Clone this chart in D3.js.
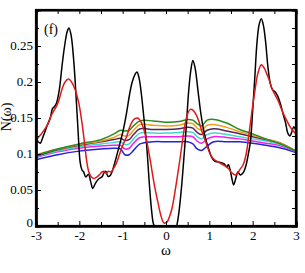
<!DOCTYPE html>
<html><head><meta charset="utf-8">
<script src="https://cdn.jsdelivr.net/npm/d3@7"></script>
<style>
body{margin:0;background:#fff;}
text{font-family:"Liberation Serif","DejaVu Serif",serif;}
</style></head><body>
<svg id="c" width="305" height="273"></svg>
<script>
const xTicks=[-3,-2,-1,0,1,2,3];
const xMinor=[-2.5,-1.5,-0.5,0.5,1.5,2.5];
const yTicks=[0,0.05,0.1,0.15,0.2,0.25];
const yTickLabels=["0","0.05","0.1","0.15","0.2","0.25"];
const yMinor=[0.025,0.075,0.125,0.175,0.225,0.275];

const blackW=[-3,-2.95,-2.9,-2.85,-2.8,-2.74,-2.67,-2.62,-2.57,-2.52,-2.46,-2.4,-2.34,-2.28,-2.24,-2.19,-2.13,-2.08,-2.03,-1.98,-1.94,-1.9,-1.85,-1.79,-1.74,-1.69,-1.64,-1.6,-1.54,-1.48,-1.43,-1.39,-1.34,-1.29,-1.22,-1.15,-1.07,-0.98,-0.91,-0.84,-0.78,-0.72,-0.67,-0.62,-0.57,-0.51,-0.45,-0.38,-0.33,-0.29,-0.26,0,0.24,0.26,0.3,0.36,0.42,0.47,0.52,0.57,0.62,0.67,0.74,0.8,0.86,0.92,0.98,1.05,1.12,1.2,1.28,1.35,1.4,1.44,1.48,1.52,1.56,1.61,1.66,1.71,1.75,1.8,1.85,1.9,1.95,2,2.05,2.1,2.15,2.2,2.25,2.3,2.35,2.4,2.45,2.52,2.58,2.64,2.7,2.76,2.81,2.86,2.9,2.95,3];
const blackN=[0.121,0.117,0.115,0.122,0.13,0.14,0.15,0.163,0.166,0.172,0.19,0.222,0.25,0.27,0.275,0.265,0.23,0.185,0.133,0.088,0.078,0.075,0.068,0.072,0.062,0.052,0.058,0.062,0.066,0.068,0.074,0.076,0.069,0.07,0.08,0.095,0.113,0.135,0.157,0.183,0.2,0.21,0.214,0.205,0.184,0.15,0.115,0.055,0.02,0.003,0,0,0,0.004,0.02,0.055,0.1,0.14,0.185,0.215,0.23,0.22,0.187,0.158,0.136,0.12,0.108,0.096,0.09,0.089,0.088,0.086,0.082,0.085,0.078,0.066,0.057,0.066,0.075,0.071,0.072,0.076,0.085,0.1,0.118,0.16,0.207,0.255,0.28,0.288,0.278,0.255,0.222,0.2,0.19,0.186,0.18,0.17,0.156,0.143,0.129,0.125,0.13,0.138,0.132];

const redW=[-3,-2.92,-2.85,-2.74,-2.66,-2.59,-2.53,-2.47,-2.4,-2.33,-2.25,-2.18,-2.1,-2.01,-1.96,-1.92,-1.87,-1.83,-1.78,-1.72,-1.66,-1.6,-1.54,-1.48,-1.43,-1.38,-1.33,-1.27,-1.21,-1.14,-1.07,-0.99,-0.91,-0.84,-0.78,-0.72,-0.65,-0.59,-0.53,-0.47,-0.42,-0.36,-0.3,-0.24,-0.18,-0.12,-0.06,-0.02,0.03,0.08,0.14,0.2,0.26,0.32,0.38,0.43,0.5,0.56,0.62,0.7,0.76,0.82,0.88,0.94,1.01,1.07,1.12,1.2,1.28,1.35,1.4,1.45,1.5,1.56,1.6,1.65,1.7,1.78,1.85,1.92,1.98,2.05,2.12,2.2,2.27,2.32,2.38,2.43,2.5,2.58,2.66,2.74,2.8,2.86,2.92,3];
const redN=[0.119,0.125,0.13,0.14,0.152,0.16,0.166,0.175,0.19,0.2,0.204,0.2,0.19,0.17,0.152,0.135,0.11,0.09,0.075,0.068,0.066,0.068,0.071,0.075,0.076,0.073,0.076,0.075,0.08,0.088,0.1,0.113,0.124,0.137,0.145,0.149,0.15,0.146,0.138,0.125,0.11,0.09,0.068,0.048,0.031,0.015,0.005,0.004,0.006,0.013,0.025,0.045,0.068,0.092,0.118,0.138,0.156,0.162,0.161,0.154,0.145,0.133,0.123,0.113,0.101,0.095,0.092,0.089,0.086,0.084,0.082,0.079,0.075,0.072,0.071,0.073,0.078,0.085,0.1,0.13,0.158,0.187,0.212,0.224,0.219,0.212,0.203,0.193,0.184,0.175,0.163,0.152,0.145,0.138,0.133,0.128];

const smoothW=[-3,-2.5,-2,-1.5,-1.2,-1.05,-0.95,-0.85,-0.75,-0.6,-0.3,0,0.3,0.5,0.62,0.72,0.82,0.95,1.1,1.4,1.7,2,2.3,2.6,3];
const greenN=[0.098,0.107,0.114,0.12,0.128,0.133,0.132,0.133,0.139,0.146,0.146,0.144,0.145,0.148,0.147,0.142,0.139,0.147,0.148,0.143,0.134,0.128,0.121,0.115,0.104];
const orangeN=[0.099,0.107,0.113,0.118,0.123,0.127,0.125,0.126,0.133,0.141,0.14,0.139,0.14,0.143,0.142,0.136,0.133,0.14,0.141,0.137,0.131,0.126,0.121,0.116,0.104];
const purpleN=[0.097,0.106,0.112,0.117,0.12,0.122,0.119,0.12,0.127,0.135,0.134,0.134,0.135,0.137,0.136,0.13,0.127,0.133,0.135,0.132,0.128,0.124,0.12,0.116,0.104];
const cyanN=[0.096,0.104,0.11,0.114,0.116,0.117,0.113,0.114,0.121,0.129,0.129,0.129,0.13,0.131,0.13,0.124,0.121,0.127,0.129,0.127,0.124,0.121,0.118,0.114,0.104];
const magentaN=[0.095,0.103,0.108,0.111,0.112,0.112,0.107,0.108,0.115,0.123,0.124,0.124,0.124,0.125,0.124,0.118,0.115,0.121,0.124,0.123,0.121,0.118,0.115,0.112,0.103];
const blueN=[0.092,0.099,0.104,0.107,0.108,0.107,0.099,0.099,0.105,0.114,0.117,0.117,0.117,0.117,0.114,0.107,0.105,0.111,0.117,0.117,0.117,0.115,0.112,0.109,0.102];

const L=36,R=296,T=10,B=226;
const svg=d3.select("#c");
const x=d3.scaleLinear().domain([-3,3]).range([L,R]);
const y=d3.scaleLinear().domain([0,0.3]).range([B,T]);

svg.append("clipPath").attr("id","cp").append("rect").attr("x",L).attr("y",T).attr("width",R-L).attr("height",B-T);

const line=d3.line().x(d=>x(d[0])).y(d=>y(d[1])).curve(d3.curveCatmullRom.alpha(0.5));
const series=[
 [blueN,"#2323d8"],[magentaN,"#f020f0"],[cyanN,"#40d8d0"],[purpleN,"#5a2456"],[orangeN,"#f0a020"],[greenN,"#2a8a1c"]
];
const lg=svg.append("g").attr("clip-path","url(#cp)");
series.forEach(([vals,col])=>{
  lg.append("path").datum(smoothW.map((w,i)=>[w,vals[i]])).attr("d",line).attr("fill","none").attr("stroke",col).attr("stroke-width",1.5);
});
lg.append("path").datum(blackW.map((w,i)=>[w,blackN[i]])).attr("d",line).attr("fill","none").attr("stroke","#000").attr("stroke-width",1.5);
lg.append("path").datum(redW.map((w,i)=>[w,redN[i]])).attr("d",line).attr("fill","none").attr("stroke","#e01818").attr("stroke-width",1.5);

function styleAxis(sel){
  sel.selectAll("path.domain").attr("stroke","#000").attr("stroke-width",2.2);
  sel.selectAll(".tick line").attr("stroke","#000").attr("stroke-width",1);
  sel.selectAll("text").attr("font-family","Liberation Serif, serif").attr("font-size",13).attr("fill","#000");
}
const ab=svg.append("g").attr("transform",`translate(0,${B})`)
 .call(d3.axisBottom(x).tickValues(xTicks).tickSize(-5).tickPadding(5).tickFormat(d=>d));
styleAxis(ab);
const abm=svg.append("g").attr("transform",`translate(0,${B})`)
 .call(d3.axisBottom(x).tickValues(xMinor).tickSize(-4).tickFormat(""));
styleAxis(abm);
const at=svg.append("g").attr("transform",`translate(0,${T})`)
 .call(d3.axisTop(x).tickValues(xTicks.concat(xMinor)).tickSize(-4).tickFormat(""));
styleAxis(at);
const al=svg.append("g").attr("transform",`translate(${L},0)`)
 .call(d3.axisLeft(y).tickValues(yTicks).tickSize(-5).tickPadding(3).tickFormat((d,i)=>yTickLabels[i]));
styleAxis(al);
al.selectAll(".tick text").attr("dy",(d,i)=>i===0?"0.05em":"0.28em");
const alm=svg.append("g").attr("transform",`translate(${L},0)`)
 .call(d3.axisLeft(y).tickValues(yMinor).tickSize(-3).tickFormat(""));
styleAxis(alm);
const ar=svg.append("g").attr("transform",`translate(${R},0)`)
 .call(d3.axisRight(y).tickValues(yTicks.concat(yMinor)).tickSize(-4).tickFormat(""));
styleAxis(ar);

svg.append("rect").attr("x",L).attr("y",T).attr("width",R-L).attr("height",B-T).attr("fill","none").attr("stroke","#000").attr("stroke-width",2.2);

svg.append("text").attr("x",(L+R)/2).attr("y",255).attr("text-anchor","middle").attr("font-size",15).text("ω");
svg.append("text").attr("transform","translate(11,117) rotate(-90)").attr("text-anchor","middle").attr("font-size",14).text("N(ω)");
svg.append("text").attr("x",44).attr("y",34).attr("font-size",14).text("(f)");
</script></body></html>
